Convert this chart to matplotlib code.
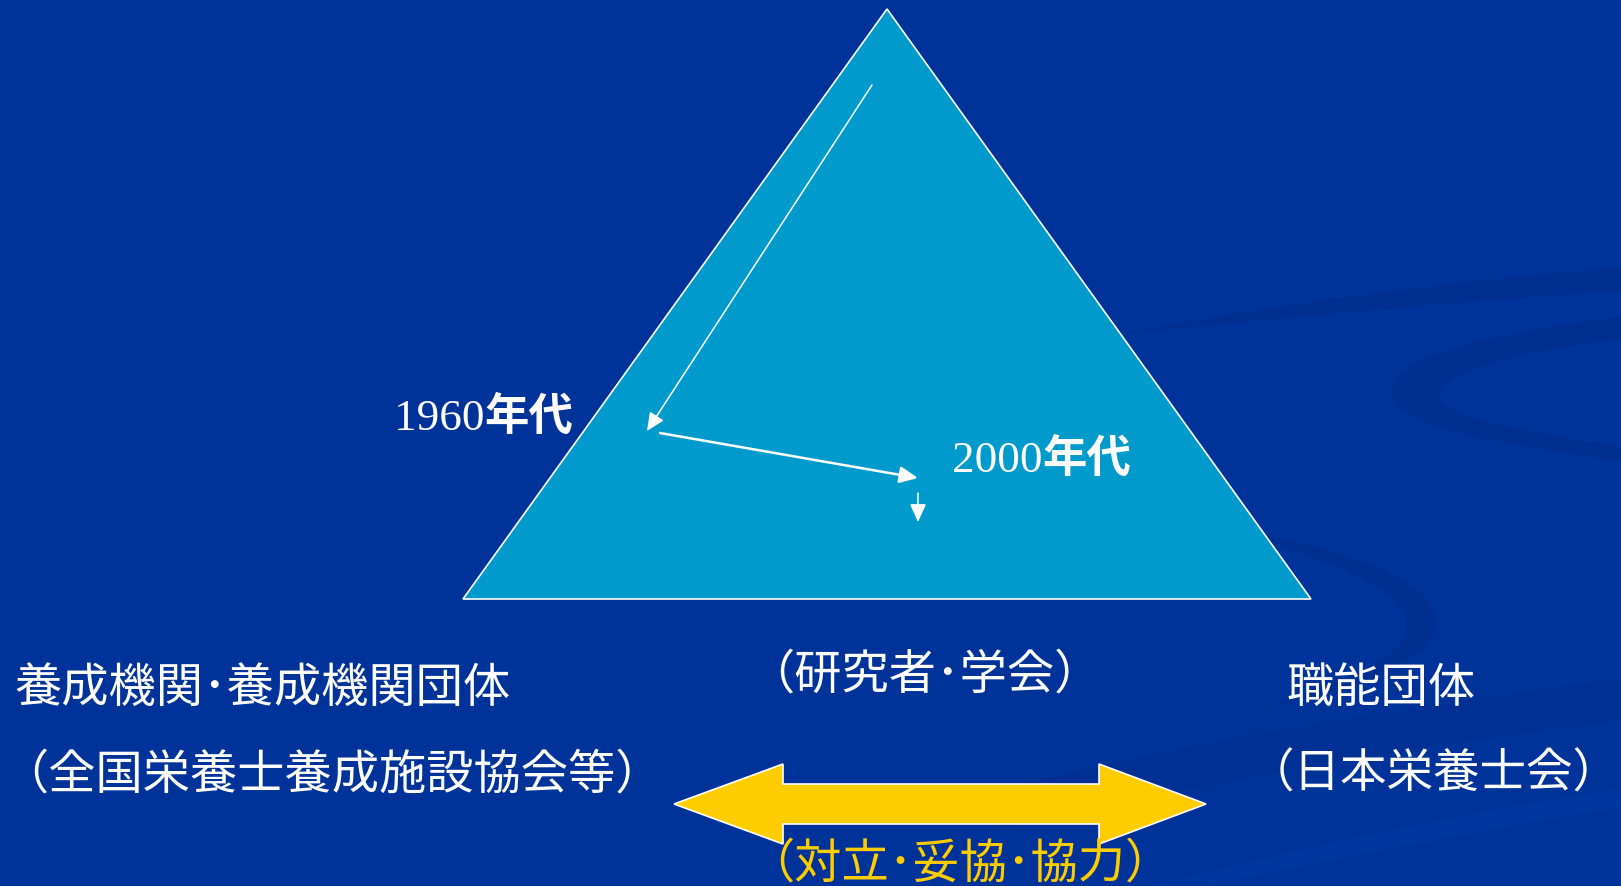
import matplotlib
matplotlib.use("Agg")
import matplotlib.pyplot as plt
from matplotlib.patches import Polygon, FancyArrowPatch, PathPatch, ArrowStyle
from matplotlib.path import Path

# ---- content ----
left_labels = ["養成機関･養成機関団体", "（全国栄養士養成施設協会等）"]
right_labels = ["職能団体", "（日本栄養士会）"]
center_label = "（研究者･学会）"
relation_label = "（対立･妥協･協力）"
era_years = ["1960", "2000"]
era_suffix = "年代"

BG = "#003399"
TRI = "#009BCC"
YELLOW = "#FFCC00"
CJK = ["Noto Sans CJK JP", "DejaVu Sans"]
SERIF = ["Liberation Serif", "DejaVu Serif"]

W, H = 1621, 887
fig = plt.figure(figsize=(W / 100, H / 100), dpi=100)
fig.patch.set_facecolor(BG)
ax = fig.add_axes([0, 0, 1, 1])
ax.set_xlim(0, W)
ax.set_ylim(H, 0)
ax.axis("off")
ax.set_facecolor(BG)

# ---- subtle background swirls ----
def swirl(verts, color="#002B88", alpha=0.45):
    codes = [Path.MOVETO] + [Path.CURVE4] * (len(verts) - 2) + [Path.CLOSEPOLY]
    ax.add_patch(PathPatch(Path(verts, codes), facecolor=color, edgecolor="none",
                           alpha=alpha, zorder=0))

# top thin band
swirl([(1120, 335), (1300, 300), (1480, 280), (1621, 268),
       (1621, 268), (1621, 290), (1621, 292),
       (1480, 300), (1300, 318), (1120, 335), (1120, 335)])
# curl
swirl([(1621, 318), (1480, 335), (1390, 360), (1390, 393),
       (1390, 428), (1500, 445), (1621, 462),
       (1621, 462), (1621, 450), (1621, 448),
       (1520, 432), (1440, 418), (1440, 396),
       (1440, 375), (1520, 352), (1621, 340),
       (1621, 340), (1621, 318), (1621, 318), (1621, 318)])
# middle curved band
swirl([(1220, 528), (1320, 545), (1420, 570), (1435, 615),
       (1445, 660), (1360, 690), (1250, 712),
       (1360, 680), (1415, 655), (1405, 618),
       (1395, 585), (1320, 560), (1220, 528), (1220, 528)])
# lower diagonal bands
swirl([(1000, 790), (1200, 740), (1420, 705), (1621, 680),
       (1621, 680), (1621, 720), (1621, 722),
       (1420, 745), (1200, 785), (1000, 830), (1000, 790)], alpha=0.35)
swirl([(1150, 887), (1300, 850), (1450, 815), (1621, 790),
       (1621, 790), (1621, 805), (1621, 808),
       (1450, 835), (1300, 870), (1200, 887), (1150, 887)], color="#0040A8", alpha=0.35)

# ---- triangle ----
ax.add_patch(Polygon([(887, 10), (463, 600), (1311, 600)], closed=True,
                     facecolor=TRI, edgecolor="white", linewidth=1.2, zorder=2))

# ---- white arrows ----
def arrow(p0, p1, lw=1.1, hl=11, hw=5):
    ax.add_patch(FancyArrowPatch(p0, p1, arrowstyle=ArrowStyle("-|>", head_length=hl, head_width=hw),
                                 mutation_scale=1, shrinkA=0, shrinkB=0,
                                 color="white", linewidth=lw, zorder=3))

arrow((872, 86), (647, 432))
arrow((660, 434), (918, 479), lw=1.8)
arrow((918, 494), (918, 523))

# ---- era labels ----
def era(x, y, year):
    t = ax.text(x, y, year, family=SERIF, fontsize=32.5, color="white",
                ha="left", va="baseline", zorder=4)
    ax.annotate(era_suffix, xy=(1, y), xycoords=(t, "data"), family=CJK,
                fontsize=32, fontweight="bold", color="white",
                ha="left", va="baseline", zorder=4)

era(394, 430, era_years[0])
era(952, 472, era_years[1])

# ---- side & centre labels ----
fs = 34
ax.text(14, 702, left_labels[0], family=CJK, fontsize=fs, color="white", ha="left", va="baseline")
ax.text(1, 788, left_labels[1], family=CJK, fontsize=fs, color="white", ha="left", va="baseline")
ax.text(1286, 702, right_labels[0], family=CJK, fontsize=fs, color="white", ha="left", va="baseline")
ax.text(1620, 788, right_labels[1], family=CJK, fontsize=33.5, color="white", ha="right", va="baseline")
ax.text(747, 688, center_label, family=CJK, fontsize=fs, color="white", ha="left", va="baseline")

# ---- yellow double arrow ----
c, h1, h2 = 805, 20, 40
ax.add_patch(Polygon([(674, c), (783, c - h2), (783, c - h1), (1099, c - h1), (1099, c - h2),
                      (1206, c), (1099, c + h2), (1099, c + h1), (783, c + h1), (783, c + h2)],
                     closed=True, facecolor=YELLOW, edgecolor="white", linewidth=1.2, zorder=3))
ax.text(747, 877, relation_label, family=CJK, fontsize=fs, color=YELLOW, ha="left", va="baseline", zorder=4)

fig.savefig("out.png", dpi=100, facecolor=BG)
